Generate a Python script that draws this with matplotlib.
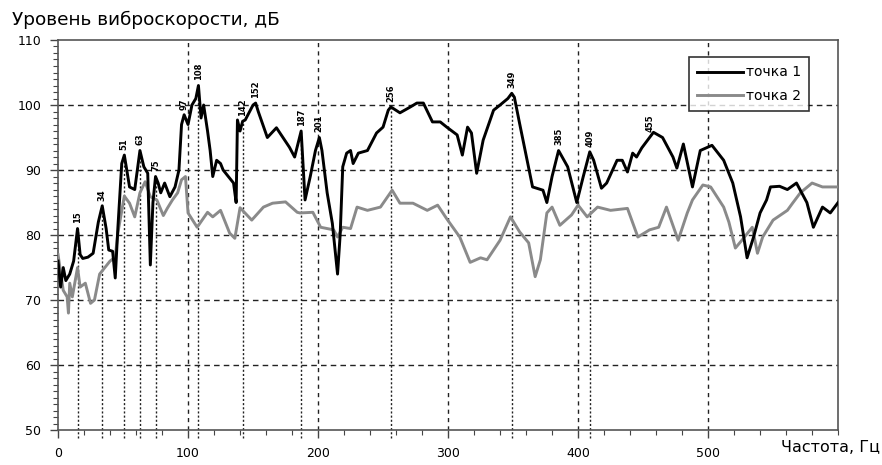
import matplotlib.pyplot as plt
import numpy as np
from matplotlib.ticker import MultipleLocator

# точка 1 (чёрная кривая): частота, Гц / уровень, дБ
f1 = [0, 2, 4, 6, 9, 12, 15, 17, 19, 23, 27, 31, 34, 37, 39, 42, 44, 46, 49, 51,
      55, 59, 63, 66, 69, 71, 73, 75, 77, 79, 82, 86, 90, 93, 95, 97, 100, 103, 106, 108,
      110, 112, 115, 117, 119, 122, 125, 127, 131, 135, 137, 138, 140, 142, 144, 150, 152, 154, 161, 168,
      178, 182, 187, 190, 194, 198, 201, 203, 207, 211, 215, 217, 219, 222, 225, 227, 231, 238, 245, 250,
      254, 256, 263, 271, 276, 281, 288, 294, 299, 307, 311, 315, 318, 322, 327, 335, 340, 346, 349, 351,
      355, 365, 373, 376, 380, 385, 392, 399, 404, 409, 412, 418, 422, 430, 434, 438, 442, 445, 449, 455,
      458, 465, 473, 476, 481, 488, 494, 503, 512, 519, 525, 530, 535, 540, 545, 548, 555, 561, 568, 576,
      581, 588, 594, 600]
db1 = [76, 72, 75, 73, 74, 76, 81, 77, 76.4, 76.6, 77.2, 82, 84.5, 81, 77.7, 77.5, 73.4, 81, 91, 92.3,
       87.4, 87, 93, 90.5, 89.5, 75.4, 85, 89, 88, 86.5, 88, 85.9, 87.4, 90, 97, 98.5, 97, 100, 101, 103,
       98, 100, 96, 93, 89, 91.5, 91, 90, 89, 88, 85, 97.7, 96, 97.5, 97.7, 100, 100.3, 99, 95, 96.5,
       93.5, 92, 96, 85.4, 89, 93, 95, 93, 86.5, 81.8, 74, 80, 90.5, 92.6, 93, 91, 92.6, 93, 95.7, 96.6,
       99.2, 99.7, 98.8, 99.7, 100.3, 100.3, 97.4, 97.4, 96.6, 95.4, 92.3, 96.6, 95.7, 89.5, 94.6, 99.2, 100, 101, 101.8, 101.2,
       97.2, 87.4, 86.9, 85, 89, 93, 90.5, 85, 89, 92.8, 91.5, 87.2, 88, 91.5, 91.5, 89.7, 92.6, 92, 93.4, 95,
       95.8, 95, 92, 90.3, 94, 87.4, 93, 93.8, 91.5, 88, 82.8, 76.5, 79.7, 83.4, 85.4, 87.4, 87.5, 87, 88, 85,
       81.2, 84.3, 83.4, 85]

# точка 2 (серая кривая)
f2 = [0, 4, 7, 8, 9, 11, 15, 17, 21, 25, 28, 32, 40, 44, 46, 51, 55, 59, 63, 67,
      71, 76, 81, 84, 88, 92, 95, 98, 100, 107, 115, 119, 125, 132, 136, 140, 149, 158, 165, 175,
      184, 186, 196, 202, 212, 215, 219, 225, 230, 238, 248, 257, 263, 273, 284, 292, 299, 309, 317, 325,
      330, 340, 348, 355, 362, 367, 371, 376, 380, 386, 395, 400, 407, 415, 425, 438, 446, 455, 462, 468,
      477, 484, 488, 496, 502, 512, 516, 521, 526, 534, 538, 542, 550, 561, 565, 571, 580, 588, 599]
db2 = [77, 71.5, 70.5, 68, 72.6, 70.5, 75, 72, 72.6, 69.5, 70, 74, 76, 76.6, 80.3, 86, 84.9, 82.8, 86.5, 88.2,
       85.9, 85.4, 83, 84.1, 85.4, 86.5, 88.5, 89, 83.4, 81.2, 83.5, 82.8, 83.8, 80.3, 79.5, 84.2, 82.3, 84.3, 84.9, 85.1,
       83.5, 83.4, 83.5, 81.2, 80.8, 79.7, 81.2, 81, 84.3, 83.8, 84.3, 86.9, 84.9, 84.9, 83.8, 84.6, 82.5, 79.7, 75.8, 76.5,
       76.2, 79.2, 82.8, 80.5, 78.8, 73.6, 76.2, 83.4, 84.3, 81.5, 83.1, 84.6, 82.8, 84.3, 83.8, 84.1, 79.7, 80.8, 81.2, 84.3,
       79.2, 83.4, 85.4, 87.7, 87.4, 84.3, 82, 78, 79.2, 81.2, 77.2, 79.7, 82.3, 83.8, 84.9, 86.5, 88, 87.4, 87.4]

# подписанные пики
peak_freqs = [15, 34, 51, 63, 75, 97, 108, 142, 152, 187, 201, 256, 349, 385, 409, 455]
marked_peaks = [15, 34, 51, 63, 75, 108, 142, 187, 256, 349, 409]

fig = plt.figure(figsize=(8.82, 4.65), dpi=100)
ax = fig.add_axes([0.0658, 0.075, 0.8844, 0.839])

ax.set_xlim(0, 600)
ax.set_ylim(50, 110)
ax.xaxis.set_major_locator(MultipleLocator(100))
ax.xaxis.set_minor_locator(MultipleLocator(20))
ax.yaxis.set_major_locator(MultipleLocator(10))
ax.yaxis.set_minor_locator(MultipleLocator(1))
ax.set_xticks([0, 100, 200, 300, 400, 500])
ax.set_xticklabels(['0', '100', '200', '300', '400', '500'])
ax.tick_params(which='major', direction='out', length=6, width=1, color='#444444',
               labelsize=9, pad=6)
ax.tick_params(which='minor', direction='out', length=3.5, width=0.8, color='#444444')
for s in ax.spines.values():
    s.set_color('#555555')
    s.set_linewidth(1.2)

# сетка
for v in [100, 200, 300, 400, 500]:
    ax.axvline(v, color='#222222', lw=1, ls=(0, (3, 3)), zorder=1)
for h in [60, 70, 80, 90, 100]:
    ax.axhline(h, color='#222222', lw=1, ls=(0, (4, 3)), zorder=1)

# пунктир от пиков вниз
for pf in marked_peaks:
    top = np.interp(pf, f1, db1)
    ax.plot([pf, pf], [48.8, top], color='#222222', lw=1, ls=(0, (1.5, 1.5)),
            clip_on=False, zorder=1)

ax.plot(f2, db2, color='#8a8a8a', lw=2.1, label='точка 2', zorder=3)
ax.plot(f1, db1, color='black', lw=2.1, label='точка 1', zorder=4)

for pf in peak_freqs:
    lvl = np.interp(pf, f1, db1)
    ax.text(pf, lvl + 0.8, str(pf), rotation=90, ha='center', va='bottom',
            fontsize=6, fontweight='bold', zorder=5)

h, l = ax.get_legend_handles_labels()
leg = ax.legend(h[::-1], l[::-1], loc='upper right', bbox_to_anchor=(0.972, 0.974),
                fontsize=10, frameon=True, fancybox=False, handlelength=3.3,
                handletextpad=0.2, labelspacing=0.7, borderpad=0.6)
leg.get_frame().set_edgecolor('black')
leg.get_frame().set_linewidth(1.2)

fig.text(12 / 882, 1 - 20 / 465, 'Уровень виброскорости, дБ', fontsize=13.3,
         va='center', ha='left')
fig.text(880 / 882, 1 - 447 / 465, 'Частота, Гц', fontsize=11.5, va='center', ha='right')

fig.savefig('out.png', dpi=100)
